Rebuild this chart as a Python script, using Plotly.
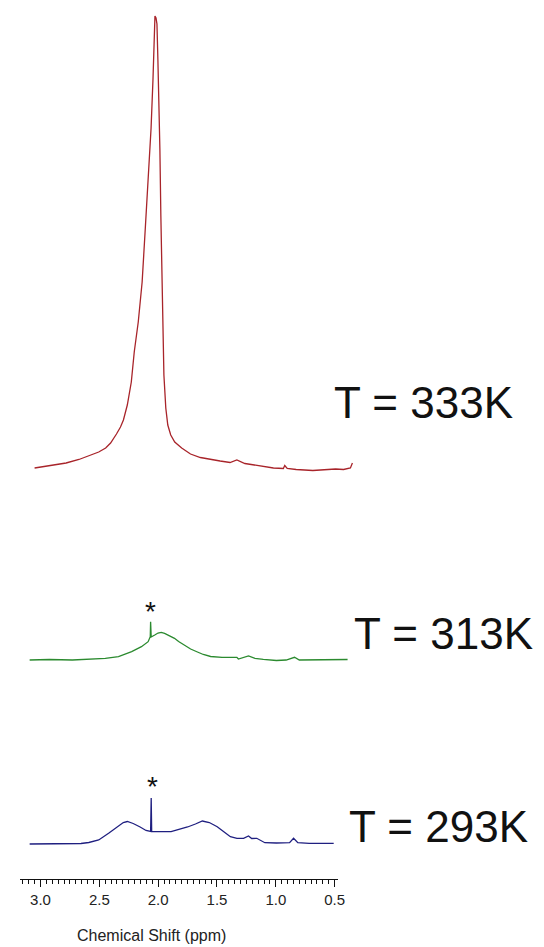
import plotly.graph_objects as go

# 1H NMR spectra of the same sample at three temperatures (stacked)
# chemical shift in ppm, intensity in arbitrary units above each trace's baseline

ppm_333 = [3.050, 2.924, 2.782, 2.673, 2.564, 2.505, 2.446, 2.404, 2.354, 2.320,
           2.295, 2.262, 2.228, 2.203, 2.169, 2.136, 2.111, 2.094, 2.077, 2.060,
           2.044, 2.031, 2.027, 2.018, 2.010, 2.002, 1.993, 1.985, 1.977, 1.968,
           1.960, 1.951, 1.935, 1.918, 1.893, 1.859, 1.800, 1.725, 1.641, 1.557,
           1.473, 1.389, 1.331, 1.263, 1.188, 1.104, 1.020, 0.936, 0.924, 0.903,
           0.827, 0.685, 0.576, 0.492, 0.424, 0.366, 0.349]
int_333 = [7, 9, 12, 15.5, 20, 23, 27, 32, 41, 48,
           55, 70, 93, 123, 153, 193, 243, 275, 307, 347,
           395, 435, 459, 457, 451, 415, 375, 325, 260, 190,
           140, 100, 67, 50, 40, 33, 27, 21, 17.5, 15.5,
           14, 12.5, 15, 11.5, 10, 8, 7, 6.5, 9.5, 6.5,
           5.5, 4.5, 5, 6, 5.5, 7, 12]

ppm_313 = [3.092, 2.924, 2.729, 2.533, 2.449, 2.337, 2.225, 2.142, 2.085, 2.067,
           2.064, 2.059, 2.052, 2.029, 2.001, 1.974, 1.945, 1.909, 1.861, 1.826,
           1.777, 1.724, 1.666, 1.616, 1.554, 1.457, 1.331, 1.318, 1.232, 1.177,
           1.106, 0.995, 0.912, 0.841, 0.800, 0.660, 0.492, 0.390]
int_313 = [0, 0.5, 0, 0.7, 1.7, 3.3, 8.3, 13.3, 18.3, 23.3,
           38.3, 23, 23.3, 25, 27, 27.7, 26.7, 24.5, 21.7, 18.5,
           14.5, 11, 8, 5.5, 3.5, 2.7, 2.7, 1, 4, 1.7,
           0.7, -0.5, 0, 2.7, 0, 0.2, 0, 0.5]

ppm_293 = [3.092, 2.774, 2.656, 2.589, 2.505, 2.421, 2.337, 2.296, 2.262, 2.212,
           2.153, 2.103, 2.064, 2.059, 2.055, 2.036, 2.001, 1.890, 1.817, 1.750,
           1.683, 1.624, 1.565, 1.498, 1.439, 1.386, 1.330, 1.274, 1.232, 1.205,
           1.162, 1.093, 0.995, 0.883, 0.849, 0.813, 0.716, 0.508]
int_293 = [0, 0, 0.5, 1.5, 4, 10.7, 18.5, 21.5, 22.5, 20.5,
           17, 13.5, 12.5, 46, 12.5, 12.3, 12.3, 12.3, 14.5, 17,
           20, 23, 21.5, 17.3, 12, 7.3, 5.7, 5.7, 8, 5.5,
           5.7, 1.3, 1, 1.3, 5.7, 1.3, 0.7, 0.7]

temperatures = ["T = 333K", "T = 313K", "T = 293K"]
baselines = [404, 219, 35]          # vertical stacking offset of each trace
colors = ["#a8242a", "#2b8a2f", "#1f1f80"]

W, H = 544, 947
AXIS_PX = 879                        # pixel row of the ppm axis line
PX_PER_PPM = 119.2
PPM3_PX = 41                         # pixel column of 3.0 ppm


def px_x(p):
    return p / W


def px_y(p):
    return 1 - p / H


def ppm_at(px):
    return 3.0 - (px - PPM3_PX) / PX_PER_PPM


fig = go.Figure()

# empty trace that keeps the visible ppm axis (x / y subplot) in the figure
fig.add_trace(go.Scatter(x=[], y=[], xaxis="x", yaxis="y", mode="lines",
                         showlegend=False, hoverinfo="skip"))

# spectra live on a hidden full-width axis with the same ppm scale,
# so their ends are not clipped at the visible axis limits
series = [(ppm_333, int_333), (ppm_313, int_313), (ppm_293, int_293)]
for (xs, ys), off, col, name in zip(series, baselines, colors, temperatures):
    fig.add_trace(go.Scatter(
        x=xs, y=[v + off for v in ys], mode="lines", name=name,
        xaxis="x2", yaxis="y",
        line=dict(color=col, width=1.3), hoverinfo="skip", showlegend=False,
    ))

# temperature labels to the right of each trace
label_pos = [(336, 402), (357, 633), (352, 826)]
for text, (lx, ly) in zip(temperatures, label_pos):
    fig.add_annotation(
        text=text, x=px_x(lx), y=px_y(ly), xref="paper", yref="paper",
        xanchor="left", yanchor="middle", showarrow=False,
        font=dict(family="Liberation Sans, Arial", size=44, color="#111111"),
    )

# asterisks marking the sharp solvent line
for x_ast, y_ast in [(2.069, 268), (2.052, 93)]:
    fig.add_annotation(
        text="*", x=x_ast, y=y_ast, xref="x2", yref="y",
        xanchor="center", yanchor="middle", showarrow=False,
        font=dict(family="Liberation Sans, Arial", size=28, color="#111111"),
    )

fig.add_annotation(
    text="Chemical Shift (ppm)", x=px_x(153), y=px_y(935), xref="paper", yref="paper",
    xanchor="center", yanchor="middle", showarrow=False,
    font=dict(family="Liberation Sans, Arial", size=16, color="#222222"),
)

fig.update_layout(
    width=W, height=H,
    margin=dict(l=0, r=0, t=0, b=0),
    paper_bgcolor="white", plot_bgcolor="rgba(0,0,0,0)",
    xaxis=dict(
        domain=[px_x(20), px_x(342.6)], range=[ppm_at(20), ppm_at(342.6)],
        showline=True, linecolor="#111111", linewidth=1,
        showgrid=False, zeroline=False,
        ticks="outside", ticklen=7, tickwidth=1, tickcolor="#111111",
        tickvals=[3.0, 2.5, 2.0, 1.5, 1.0, 0.5], tickformat=".1f",
        tickfont=dict(family="Liberation Sans, Arial", size=15, color="#222222"),
        minor=dict(ticks="outside", ticklen=4, tickwidth=1, tickcolor="#111111",
                   dtick=0.05, tick0=0, showgrid=False),
    ),
    xaxis2=dict(
        domain=[0, 1], range=[ppm_at(0), ppm_at(W)], anchor="y",
        visible=False, showgrid=False, zeroline=False,
    ),
    yaxis=dict(
        domain=[1 - AXIS_PX / H, 1], range=[0, AXIS_PX],
        visible=False, showgrid=False, zeroline=False,
    ),
)

fig.write_html("out.html")
